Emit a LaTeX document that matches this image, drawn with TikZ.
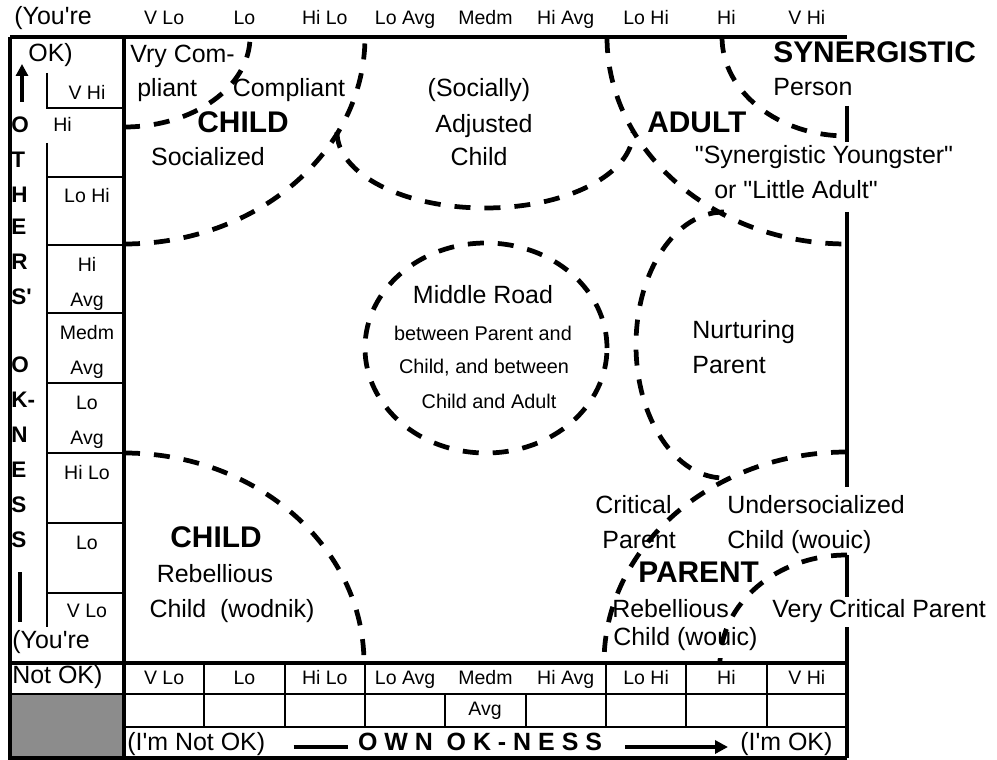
\documentclass[tikz,border=0pt]{standalone}
\usepackage{fontspec}
\newfontfamily\chartfont{Liberation Sans}
\usetikzlibrary{arrows.meta}
\tikzset{
  frame/.style={line width=2pt},
  rule/.style={line width=1.1pt},
  zone/.style={line width=2.7pt, dash pattern=on 0.32cm off 0.28cm},
  txt/.style={font=\chartfont\fontsize{14.2}{16}\selectfont, inner sep=0pt},
  head/.style={font=\chartfont\bfseries\fontsize{17}{19}\selectfont, inner sep=0pt},
  cell/.style={font=\chartfont\fontsize{11.1}{13}\selectfont, inner sep=0pt, anchor=mid},
  road/.style={font=\chartfont\fontsize{11.3}{13}\selectfont, inner sep=0pt, anchor=mid},
  axis/.style={font=\chartfont\bfseries\fontsize{12.8}{14}\selectfont, inner sep=0pt, anchor=mid west},
  pointer/.style={line width=2.2pt}
}
\begin{document}
\begin{tikzpicture}[x=0.02cm, y=0.02cm]
	\useasboundingbox (0,0) rectangle (997,-760);
	% frame and table
	\fill[black!45] (10,-694) rectangle (124,-758);
	\draw[frame] (10,-37) -- (847,-37);
	\draw[frame] (10,-37) -- (10,-758) -- (847,-758);
	\draw[frame] (124,-37) -- (124,-758);
	\draw[frame] (10,-663) -- (847,-663);
	\draw[rule] (10,-694) -- (847,-694);
	\draw[rule] (124,-727) -- (847,-727);
	\foreach \y/\z in {106/142, 212/487, 555/597, 627/758}
		\draw[frame] (847,-\y) -- (847,-\z);
	\foreach \k in {1,2,3,6,7,8}
		\draw[rule] (124+\k*80.33,-663) -- (124+\k*80.33,-727);
	\foreach \k in {4,5}
		\draw[rule] (124+\k*80.33,-694) -- (124+\k*80.33,-727);
	\draw[rule] (47,-73) -- (47,-108) -- (124,-108);
	\draw[rule] (47,-143) -- (47,-627);
	\foreach \y in {177,245,313,383,453,523,593}
		\draw[rule] (47,-\y) -- (124,-\y);

	% scale labels
	\foreach \t [count=\i] in {V Lo, Lo, Hi Lo, Lo Avg, Medm, Hi Avg, Lo Hi, Hi, V Hi} {
		\node[cell] (top\i) at (83.8+\i*80.33,-21) {\t};
		\node[cell] (bot\i) at (83.8+\i*80.33,-681) {\t};
	}
	\node[cell] (botavg) at (485,-712) {Avg};
	\foreach \t/\y [count=\i] in {V Hi/96, Lo Hi/199, Hi/268, Avg/303, Medm/336, Avg/371, Lo/406, Avg/441, Hi Lo/476, Lo/546, V Lo/614}
		\node[cell] (box\i) at (87,-\y) {\t};
	\node[cell, anchor=mid west] (boxhi) at (53,-128) {Hi};

	% others' ok-ness axis
	\node[txt, anchor=mid west] (youre) at (14,-21) {(You're};
	\node[txt, anchor=mid west] (ok) at (28,-58) {OK)};
	\node[txt, anchor=mid west] (youre2) at (12,-645) {(You're};
	\node[txt, anchor=mid west] (notok2) at (12,-680) {Not OK)};
	\foreach \t/\y [count=\i] in {O/129, T/164, H/199, E/231, R/266, S'/301, O/369, K-/404, N/439, E/474, S/509, S/544}
		\node[axis] (side\i) at (11,-\y) {\t};
	\coordinate (uptip) at (22,-64);
	\draw[pointer, -{Triangle[length=0.24cm, width=0.24cm]}, shorten <=0.3cm] (side1.north -| uptip) -- (uptip);
	\draw[line width=2.8pt] (20,-572) -- (20,-622);

	% own ok-ness axis
	\node[txt, anchor=mid west] (notok) at (127,-747) {(I'm Not OK)};
	\node[txt, anchor=mid, font=\chartfont\bfseries\fontsize{14.2}{16}\selectfont] (own) at (480,-747) {O W N\ \ O K - N E S S};
	\node[txt, anchor=mid west] (imok) at (740,-747) {(I'm OK)};
	\draw[pointer, shorten <=0.56cm, shorten >=0.2cm] (notok.mid east) -- (own.mid west);
	\draw[pointer, -{Triangle[length=0.26cm, width=0.26cm]}, shorten <=0.46cm, shorten >=0.24cm] (own.mid east) -- (imok.mid west);

	% zones
	\draw[zone] (124,-127) arc[start angle=270, end angle=360, x radius=126, y radius=90];
	\draw[zone] (124,-244) arc[start angle=270, end angle=360, x radius=241, y radius=207];
	\draw[zone] (337,-132) arc[start angle=180, end angle=360, x radius=148, y radius=76];
	\draw[zone] (607,-37) arc[start angle=180, end angle=270, x radius=240, y radius=207];
	\draw[zone] (722,-37) arc[start angle=180, end angle=270, x radius=125, y radius=99];
	\draw[zone] (486,-348) ellipse[x radius=121, y radius=105];
	\draw[zone] (724,-212) arc[start angle=90, end angle=270, x radius=88, y radius=133];
	\draw[zone] (847,-452) arc[start angle=90, end angle=180, x radius=243, y radius=211];
	\draw[zone] (124,-453) arc[start angle=90, end angle=0, x radius=240, y radius=210];
	\draw[zone] (847,-555) arc[start angle=90, end angle=180, x radius=127, y radius=108];

	% zone labels
	\node[txt, anchor=mid west] (vry) at (130,-59) {Vry Com-};
	\node[txt, anchor=mid west] (pliant) at (137,-93) {pliant};
	\node[txt, anchor=mid] (compliant) at (289,-93) {Compliant};
	\node[head, anchor=mid] (child1) at (243,-129) {CHILD};
	\node[txt, anchor=mid] (socialized) at (208,-162) {Socialized};
	\node[txt, anchor=mid] (socially) at (479,-93) {(Socially)};
	\node[txt, anchor=mid] (adjusted) at (484,-129) {Adjusted};
	\node[txt, anchor=mid] (adjchild) at (479,-162) {Child};
	\node[head, anchor=mid west] (adult) at (647,-129) {ADULT};
	\node[head, anchor=mid west] (synergistic) at (773,-59) {SYNERGISTIC};
	\node[txt, anchor=mid west] (person) at (773,-92) {Person};
	\node[txt, anchor=mid] (youngster) at (824,-160) {"Synergistic Youngster"};
	\node[txt, anchor=mid] (littleadult) at (796,-195) {or "Little Adult"};
	\node[txt, anchor=mid] (middle) at (483,-300) {Middle Road};
	\node[road] (road1) at (483,-337) {between Parent and};
	\node[road] (road2) at (484,-370) {Child, and between};
	\node[road] (road3) at (489,-405) {Child and Adult};
	\node[txt, anchor=mid west] (nurturing) at (692,-335) {Nurturing};
	\node[txt, anchor=mid west] (nparent) at (692,-370) {Parent};
	\node[head, anchor=mid] (child2) at (216,-544) {CHILD};
	\node[txt, anchor=mid] (rebellious) at (215,-579) {Rebellious};
	\node[txt, anchor=mid] (wodnik) at (232,-614) {Child~~(wodnik)};
	\node[txt, anchor=mid west] (critical) at (595,-510) {Critical};
	\node[txt, anchor=mid west] (cparent) at (602,-545) {Parent};
	\node[txt, anchor=mid west] (under) at (727,-510) {Undersocialized};
	\node[txt, anchor=mid west] (uchild) at (727,-545) {Child (wouic)};
	\node[head, anchor=mid west] (parent) at (638,-579) {PARENT};
	\node[txt, anchor=mid west] (rebel2) at (612,-614) {Rebellious};
	\node[txt, anchor=mid west] (vcparent) at (772,-614) {Very Critical Parent};
	\node[txt, anchor=mid west] (rchild) at (613,-642) {Child (wouic)};
\end{tikzpicture}
\end{document}
